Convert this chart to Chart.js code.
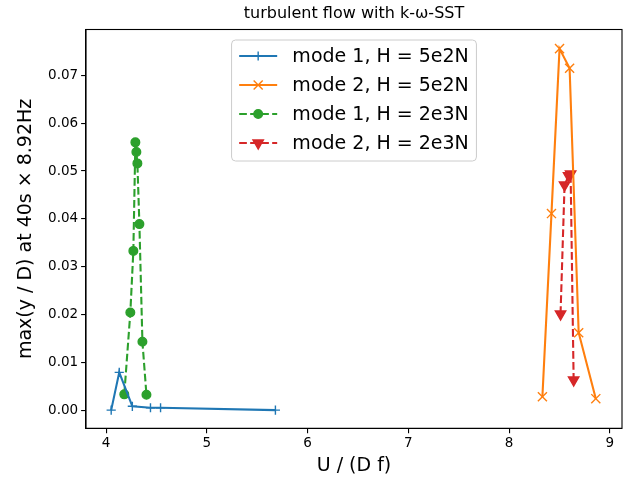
<!DOCTYPE html>
<html>
<head>
<meta charset="utf-8">
<script src="https://cdn.jsdelivr.net/npm/chart.js@4"></script>
<style>
    html, body { margin: 0; padding: 0; background: #fff; }
    #wrap { width: 630px; height: 480px; }
</style>
</head>
<body>
<div id="wrap"><canvas id="flowChart" width="630" height="480"></canvas></div>
<script>
// Series values (x = U / (D f), y = max(y / D))
const mode1LowX = [4.05, 4.13, 4.26, 4.44, 4.54, 5.68];
const mode1LowY = [0.0000, 0.0079, 0.0008, 0.0005, 0.0005, 0.0000];
const mode2LowX = [8.33, 8.42, 8.50, 8.60, 8.69, 8.86];
const mode2LowY = [0.0028, 0.0411, 0.0756, 0.0715, 0.0162, 0.0024];
const mode1HighX = [4.18, 4.24, 4.27, 4.29, 4.30, 4.31, 4.33, 4.36, 4.40];
const mode1HighY = [0.0033, 0.0204, 0.0333, 0.0560, 0.0540, 0.0516, 0.0389, 0.0143, 0.0032];
const mode2HighX = [8.51, 8.55, 8.59, 8.61, 8.64];
const mode2HighY = [0.0201, 0.0471, 0.0490, 0.0494, 0.0063];

const seriesLabels = ['mode 1, H = 5e2N', 'mode 2, H = 5e2N', 'mode 1, H = 2e3N', 'mode 2, H = 2e3N'];
const chartTitle = 'turbulent flow with k-ω-SST';

// Axis ranges
const xRange = [3.80, 9.12];
const yRange = [-0.0038, 0.0796];

const FONT = "'DejaVu Sans', sans-serif";

function toPoints(xs, ys) {
    return xs.map((x, i) => ({ x: x, y: ys[i] }));
}

const DASH = [7.7, 3.3];
const styles = [
    { color: '#1f77b4', dash: [], pointStyle: 'cross', radius: 4.6, rotation: 0, fill: false },
    { color: '#ff7f0e', dash: [], pointStyle: 'crossRot', radius: 6.4, rotation: 0, fill: false },
    { color: '#2ca02c', dash: DASH, pointStyle: 'circle', radius: 4.3, rotation: 0, fill: true },
    { color: '#d62728', dash: DASH, pointStyle: 'triangle', radius: 6, rotation: 180, fill: true }
];

const seriesData = [
    toPoints(mode1LowX, mode1LowY),
    toPoints(mode2LowX, mode2LowY),
    toPoints(mode1HighX, mode1HighY),
    toPoints(mode2HighX, mode2HighY)
];

// Full box around the axes, plus the title centred over the axes
const framePlugin = {
    id: 'frame',
    afterDraw(chart) {
        const { ctx, chartArea: a } = chart;
        ctx.save();
        ctx.strokeStyle = '#000';
        ctx.lineWidth = 1.1;
        ctx.strokeRect(a.left, a.top, a.right - a.left, a.bottom - a.top);

        ctx.fillStyle = '#000';
        ctx.font = '16px ' + FONT;
        ctx.textAlign = 'center';
        ctx.textBaseline = 'alphabetic';
        ctx.fillText(chartTitle, (a.left + a.right) / 2, a.top - 12);
        ctx.restore();
    }
};

// Matplotlib-like legend, upper centre inside the axes
const legendPlugin = {
    id: 'mplLegend',
    afterDraw(chart) {
        const { ctx, chartArea: a } = chart;
        const fs = 19;
        const pad = 0.4 * fs, handleLen = 2 * fs, handleGap = 0.8 * fs, rowH = 29;
        ctx.save();
        ctx.font = fs + 'px ' + FONT;
        const textW = Math.max(...seriesLabels.map(t => ctx.measureText(t).width));
        const boxW = pad * 2 + handleLen + handleGap + textW;
        const boxH = 121;
        const boxX = (a.left + a.right) / 2 - boxW / 2;
        const boxY = a.top + 10.5;

        ctx.beginPath();
        ctx.roundRect(boxX, boxY, boxW, boxH, 4);
        ctx.fillStyle = 'rgba(255,255,255,0.8)';
        ctx.fill();
        ctx.strokeStyle = '#cccccc';
        ctx.lineWidth = 1;
        ctx.stroke();

        seriesLabels.forEach((label, i) => {
            const s = styles[i];
            const cy = boxY + 16 + i * rowH;
            const x0 = boxX + pad;
            ctx.strokeStyle = s.color;
            ctx.fillStyle = s.color;
            ctx.lineWidth = 2.1;
            ctx.setLineDash(s.dash);
            ctx.beginPath();
            ctx.moveTo(x0, cy);
            ctx.lineTo(x0 + handleLen, cy);
            ctx.stroke();
            ctx.setLineDash([]);
            ctx.lineWidth = 1.4;
            Chart.helpers.drawPoint(ctx, {
                pointStyle: s.pointStyle, radius: s.radius, rotation: s.rotation, borderWidth: 1.4
            }, x0 + handleLen / 2, cy);

            ctx.fillStyle = '#000';
            ctx.textBaseline = 'middle';
            ctx.textAlign = 'left';
            ctx.fillText(label, x0 + handleLen + handleGap, cy + 1);
        });
        ctx.restore();
    }
};

const ctx = document.getElementById('flowChart').getContext('2d');

const flowChart = new Chart(ctx, {
    type: 'scatter',
    data: {
        datasets: seriesData.map((pts, i) => ({
            label: seriesLabels[i],
            data: pts,
            showLine: true,
            borderColor: styles[i].color,
            backgroundColor: styles[i].fill ? styles[i].color : 'rgba(0,0,0,0)',
            borderWidth: 2.1,
            borderDash: styles[i].dash,
            pointStyle: styles[i].pointStyle,
            pointRadius: styles[i].radius,
            pointRotation: styles[i].rotation,
            pointBorderWidth: 1.4,
            pointBorderColor: styles[i].color,
            pointBackgroundColor: styles[i].color,
            tension: 0
        }))
    },
    options: {
        responsive: false,
        animation: false,
        layout: {
            padding: { left: 0, right: 8, top: 29.5, bottom: 0 }
        },
        plugins: {
            legend: { display: false },
            tooltip: { enabled: false },
            title: { display: false }
        },
        scales: {
            x: {
                type: 'linear',
                min: xRange[0],
                max: xRange[1],
                afterFit: (scale) => { scale.height = 51.7; },
                border: { display: true, color: '#000', width: 1.1 },
                grid: { drawOnChartArea: false, drawTicks: true, tickLength: 4.9, color: '#000', lineWidth: 1.1 },
                ticks: {
                    stepSize: 1,
                    includeBounds: false,
                    color: '#000',
                    padding: 2,
                    maxRotation: 0,
                    font: { family: FONT, size: 13.5 },
                    callback: (v) => String(v)
                },
                title: {
                    display: true,
                    text: 'U / (D f)',
                    color: '#000',
                    font: { family: FONT, size: 19 },
                    padding: { top: 0, bottom: 2.5 }
                }
            },
            y: {
                type: 'linear',
                min: yRange[0],
                max: yRange[1],
                afterFit: (scale) => { scale.width = 86; },
                border: { display: true, color: '#000', width: 1.1 },
                grid: { drawOnChartArea: false, drawTicks: true, tickLength: 4.9, color: '#000', lineWidth: 1.1 },
                ticks: {
                    stepSize: 0.01,
                    includeBounds: false,
                    color: '#000',
                    padding: 3,
                    font: { family: FONT, size: 13.5 },
                    callback: (v) => v.toFixed(2)
                },
                title: {
                    display: true,
                    text: 'max(y / D) at 40s × 8.92Hz',
                    color: '#000',
                    font: { family: FONT, size: 19 },
                    padding: { top: 14.5, bottom: 0 }
                }
            }
        }
    },
    plugins: [framePlugin, legendPlugin]
});
</script>
</body>
</html>
